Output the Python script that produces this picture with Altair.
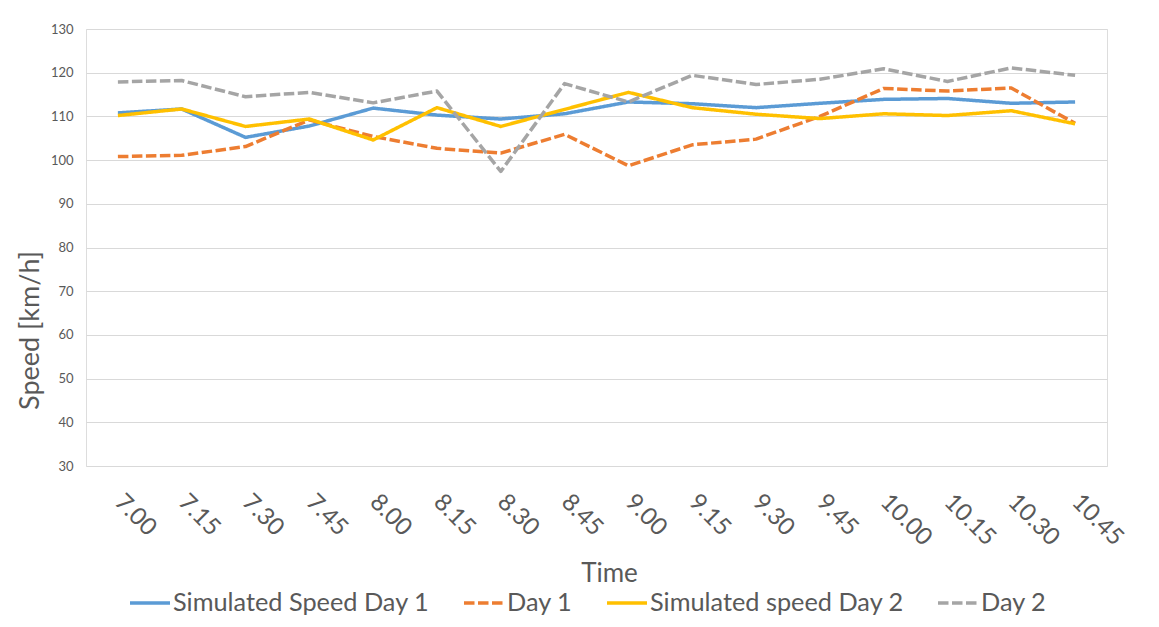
import altair as alt
import pandas as pd

times = ["7.00", "7.15", "7.30", "7.45", "8.00", "8.15", "8.30", "8.45",
         "9.00", "9.15", "9.30", "9.45", "10.00", "10.15", "10.30", "10.45"]

sim_day1 = [110.8, 111.7, 105.2, 107.8, 111.9, 110.3, 109.4, 110.6,
            113.3, 112.9, 112.0, 113.0, 113.9, 114.1, 113.0, 113.3]
day1 = [100.8, 101.1, 103.1, 109.2, 105.4, 102.7, 101.6, 105.9,
        98.7, 103.5, 104.8, 110.0, 116.4, 115.8, 116.5, 108.4]
sim_day2 = [110.2, 111.7, 107.7, 109.4, 104.6, 112.0, 107.7, 111.6,
            115.5, 112.0, 110.5, 109.5, 110.6, 110.2, 111.3, 108.3]
day2 = [117.9, 118.2, 114.5, 115.5, 113.1, 115.8, 97.4, 117.5,
        113.3, 119.4, 117.3, 118.5, 120.9, 118.0, 121.1, 119.4]

series_names = ["Simulated Speed Day 1", "Day 1", "Simulated speed Day 2", "Day 2"]
series_values = [sim_day1, day1, sim_day2, day2]
series_colors = ["#5B9BD5", "#ED7D31", "#FFC000", "#A5A5A5"]
series_dash = [[1, 0], [10.5, 3.5], [1, 0], [10.5, 3.5]]

rows = []
for k, (name, vals) in enumerate(zip(series_names, series_values)):
    for i, (t, v) in enumerate(zip(times, vals)):
        rows.append({"Time": t, "Speed": v, "Series": name, "order": k * 100 + i})
df = pd.DataFrame(rows)

FONT = "Lato"
TXT = "#595959"

legend_cfg = dict(title=None, orient="none", legendX=42, legendY=552,
                  direction="horizontal", columns=4, columnPadding=27, gridAlign="none",
                  symbolType="stroke", symbolSize=1600, symbolStrokeWidth=3.5,
                  labelFontSize=25.3, labelFont=FONT, labelColor=TXT,
                  labelOffset=1, padding=0, labelLimit=400)

chart = alt.Chart(df).mark_line(strokeWidth=3.5, strokeCap="butt", strokeJoin="round").encode(
    x=alt.X("Time:N", sort=times, scale=alt.Scale(padding=0.5),
            axis=alt.Axis(title="Time", labelAngle=45, labelAlign="left", labelBaseline="middle",
                          labelPadding=32, labelFontSize=24, labelColor=TXT, labelFont=FONT,
                          ticks=False, domain=False, grid=False,
                          titleFontSize=26, titleFont=FONT, titleColor=TXT, titleFontWeight="normal",
                          titleX=523, titleY=107, titleBaseline="middle", titleAlign="center")),
    y=alt.Y("Speed:Q", scale=alt.Scale(domain=[30, 130], nice=False, zero=False),
            axis=alt.Axis(title="Speed [km/h]", values=list(range(30, 131, 10)),
                          labelFontSize=13, labelColor=TXT, labelFont=FONT, labelPadding=13,
                          ticks=False, domain=False, grid=True, gridColor="#D9D9D9", gridWidth=1.2,
                          titleFontSize=27, titleFont=FONT, titleColor=TXT, titleFontWeight="normal",
                          titleX=-56, titleY=301, titleBaseline="middle", titleAlign="center", titleAngle=270)),
    color=alt.Color("Series:N", scale=alt.Scale(domain=series_names, range=series_colors),
                    legend=alt.Legend(**legend_cfg)),
    strokeDash=alt.StrokeDash("Series:N", scale=alt.Scale(domain=series_names, range=series_dash),
                              legend=alt.Legend(**legend_cfg)),
    order=alt.Order("order:Q"),
).properties(
    width=1021, height=437,
    autosize=alt.AutoSizeParams(type="none"),
    padding={"left": 78, "top": 21, "right": 44, "bottom": 150},
).configure_view(stroke=None).configure(background="white")

chart.save("out.html", embed_options={"renderer": "svg", "actions": False})
